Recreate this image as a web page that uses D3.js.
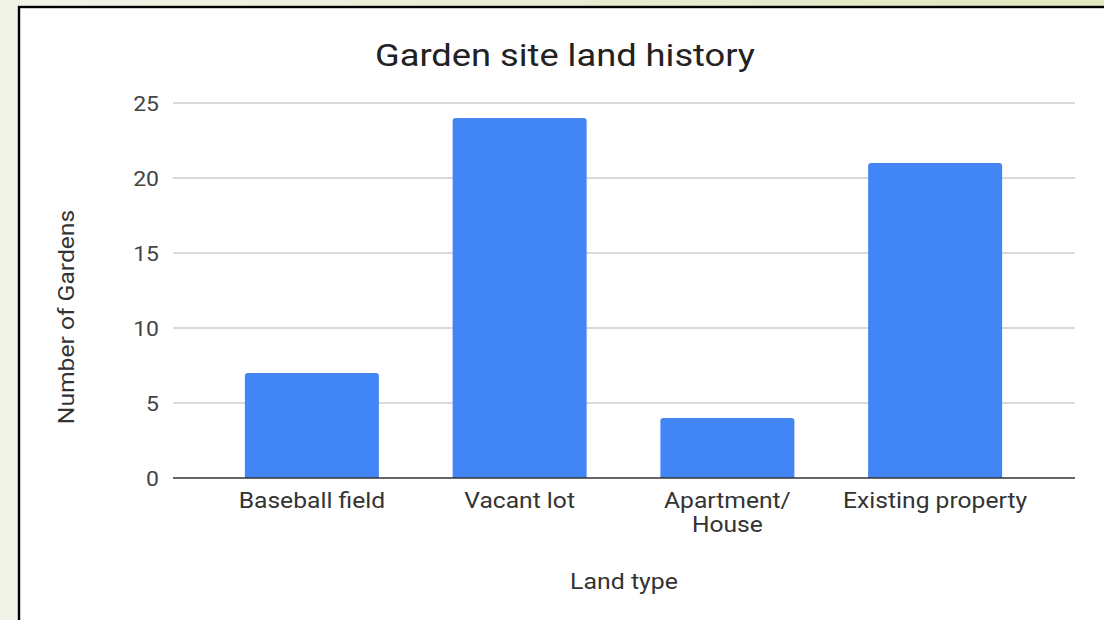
<!DOCTYPE html>
<html>
<head>
<meta charset="utf-8">
<script src="https://cdn.jsdelivr.net/npm/d3@7"></script>
<style>
  html, body { margin: 0; padding: 0; }
  body {
    width: 1104px; height: 620px; overflow: hidden;
    background: linear-gradient(to right, #f1f3e8, #dfe8bf);
  }
  #chart { display: block; }
</style>
</head>
<body>
<svg id="chart"></svg>
<script>
const categories = ['Baseball field', 'Vacant lot', 'Apartment/\nHouse', 'Existing property'];
const gardens = [7, 24, 4, 21];
const yTicks = [0, 5, 10, 15, 20, 25];

const width = 1104;
const height = 620;

const svg = d3.select('#chart')
    .attr('width', width)
    .attr('height', height)
    .style('font-family', 'Roboto, sans-serif');

// the source picture is slightly stretched sideways
const stretch = (px, py, s) => `translate(${px},${py}) scale(${s},1)`;

// white panel with black frame (top & left visible)
svg.append('rect')
    .attr('x', 19).attr('y', 7)
    .attr('width', width + 10).attr('height', height + 10)
    .attr('fill', '#fff')
    .attr('stroke', '#000')
    .attr('stroke-width', 2.4);

const y = d3.scaleLinear().domain([0, 25]).range([478, 103]);
const x = d3.scaleBand()
    .domain(categories)
    .range([208, 1039])
    .paddingInner(0.355)
    .paddingOuter(0.1775);

// gridlines
svg.append('g')
    .selectAll('line')
    .data(yTicks.filter(d => d > 0))
    .enter().append('line')
    .attr('x1', 173).attr('x2', 1075)
    .attr('y1', d => y(d)).attr('y2', d => y(d))
    .attr('stroke', '#cccccc')
    .attr('stroke-width', 1.3);

// y tick labels
svg.append('g')
    .selectAll('text')
    .data(yTicks)
    .enter().append('text')
    .attr('transform', d => stretch(159, y(d) + 8, 1.15))
    .attr('text-anchor', 'end')
    .attr('fill', '#444')
    .style('font-size', '20px')
    .text(d => d);

// bars with rounded top corners
const r = 3;
svg.append('g')
    .selectAll('path')
    .data(gardens)
    .enter().append('path')
    .attr('fill', '#4285f4')
    .attr('d', (d, i) => {
        const x0 = x(categories[i]), w = x.bandwidth();
        const y0 = y(d), y1 = y(0);
        return `M${x0},${y1}V${y0 + r}Q${x0},${y0} ${x0 + r},${y0}H${x0 + w - r}Q${x0 + w},${y0} ${x0 + w},${y0 + r}V${y1}Z`;
    });

// baseline
svg.append('line')
    .attr('x1', 173).attr('x2', 1075)
    .attr('y1', y(0)).attr('y2', y(0))
    .attr('stroke', '#333')
    .attr('stroke-width', 1.5);

// x labels
const xl = svg.append('g')
    .selectAll('text')
    .data(categories)
    .enter().append('text')
    .attr('text-anchor', 'middle')
    .attr('fill', '#333')
    .style('font-size', '22px')
    .attr('transform', d => stretch(x(d) + x.bandwidth() / 2, 508, 1.12));
xl.each(function (d) {
    const t = d3.select(this);
    d.split('\n').forEach((line, k) => {
        t.append('tspan')
            .attr('x', 0)
            .attr('dy', k === 0 ? 0 : 24)
            .text(line);
    });
});

// title
svg.append('text')
    .attr('transform', stretch(565, 66, 1.17))
    .attr('text-anchor', 'middle')
    .attr('fill', '#222')
    .style('font-size', '31px')
    .text('Garden site land history');

// axis titles
svg.append('text')
    .attr('transform', stretch(624, 589, 1.13))
    .attr('text-anchor', 'middle')
    .attr('fill', '#333')
    .style('font-size', '22px')
    .text('Land type');

svg.append('text')
    .attr('transform', 'translate(74,317) rotate(-90) scale(1.12,1)')
    .attr('text-anchor', 'middle')
    .attr('fill', '#333')
    .style('font-size', '22px')
    .text('Number of Gardens');
</script>
</body>
</html>
